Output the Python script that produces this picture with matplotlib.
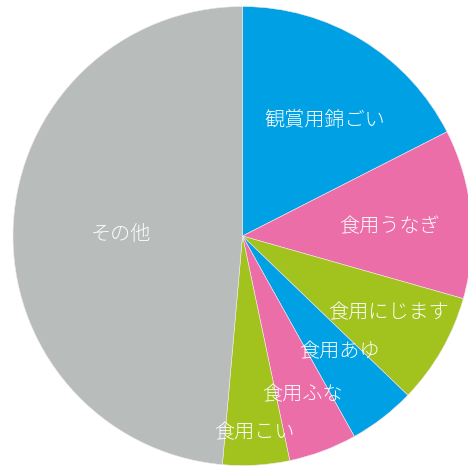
import numpy as np
import matplotlib
matplotlib.use('Agg')
import matplotlib.pyplot as plt

plt.rcParams['font.family'] = ['Noto Sans CJK JP', 'DejaVu Sans']

# share of each category (%)
labels = ['観賞用錦ごい', '食用うなぎ', '食用にじます', '食用あゆ', '食用ふな', '食用こい', 'その他']
shares = [17.5, 11.9, 7.8, 4.7, 4.8, 4.7, 48.6]
colors = ['#00a0e4', '#ec6ea8', '#a2c21e', '#00a0e4', '#ec6ea8', '#a2c21e', '#b8bcbb']
# label placement: distance from centre and clockwise shift from the wedge middle (deg)
label_r = [0.62, 0.64, 0.72, 0.66, 0.74, 0.86, 0.53]
label_shift = [3.9, 2.1, -2.1, -2.3, 0.0, 0.0, -2.0]

fig = plt.figure(figsize=(4.68, 4.68), dpi=100)
ax = fig.add_axes([0.0278, 0.0053, 0.9808, 0.9808])

wedges, _ = ax.pie(shares, colors=colors, startangle=90, counterclock=False,
                   radius=1.0, wedgeprops=dict(linewidth=0.4, edgecolor='#f4e8ee'))

for w, text, r, d in zip(wedges, labels, label_r, label_shift):
    mid = np.deg2rad((w.theta1 + w.theta2) / 2 - d)
    ax.text(r * np.cos(mid), r * np.sin(mid), text, color='#fdfdfd',
            fontsize=14.5, fontweight='light', ha='center', va='center')

ax.set_xlim(-1, 1)
ax.set_ylim(-1, 1)
ax.set_aspect('equal')
ax.axis('off')

fig.savefig('out.png', dpi=100)
